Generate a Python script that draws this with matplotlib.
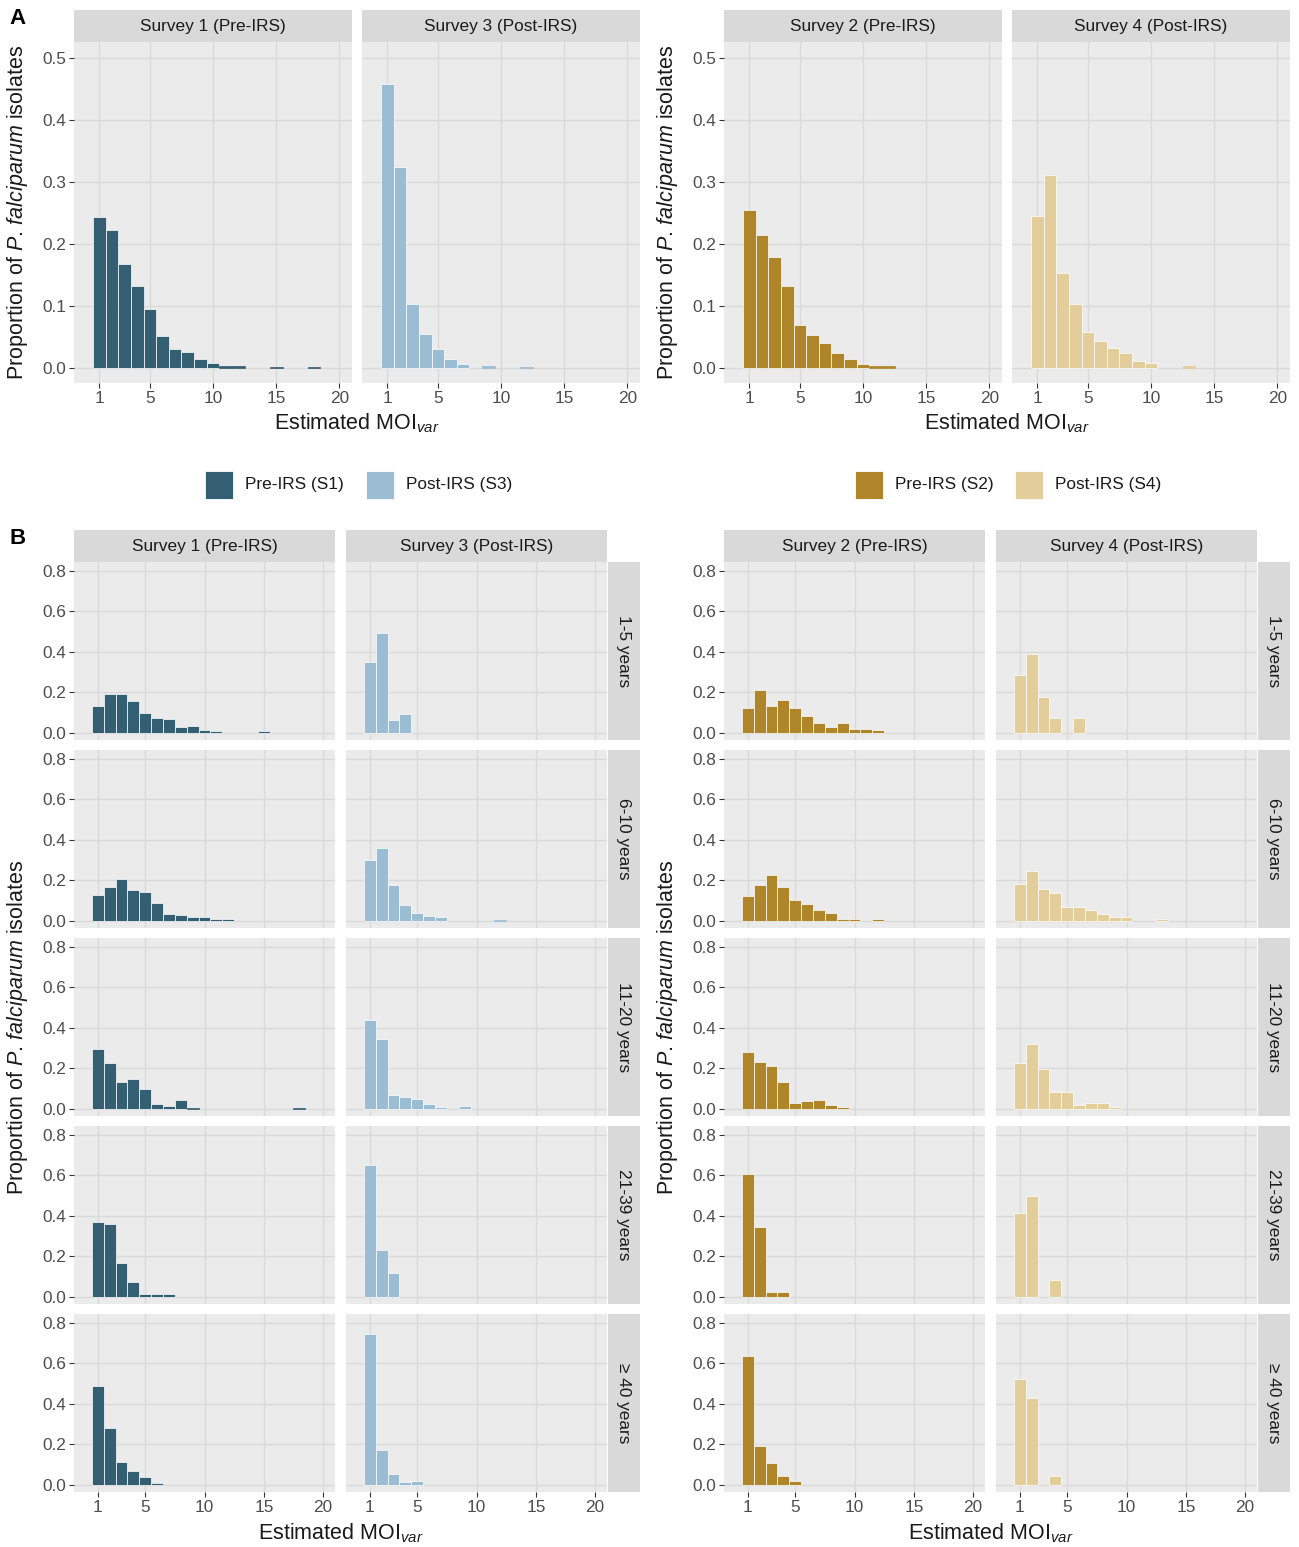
#!/usr/bin/env python3
"""
MOIvar distributions by survey (panel A) and by survey x age group (panel B).
"""

import matplotlib
matplotlib.use("Agg")
import matplotlib.pyplot as plt
from matplotlib.patches import Rectangle
import numpy as np

plt.rcParams['font.family'] = ['Liberation Sans', 'DejaVu Sans']
plt.rcParams['mathtext.fontset'] = 'custom'
plt.rcParams['mathtext.rm'] = 'Liberation Sans'
plt.rcParams['mathtext.it'] = 'Liberation Sans:italic'

# ---- data: proportion of isolates at MOIvar = 1, 2, 3, ... ----
# Panel A (all ages)
a_s1 = [0.244, 0.222, 0.168, 0.132, 0.095, 0.051, 0.031, 0.026, 0.014, 0.009,
        0.004, 0.003, 0, 0, 0.001, 0, 0, 0.001]
a_s3 = [0.459, 0.324, 0.103, 0.055, 0.031, 0.014, 0.007, 0, 0.004, 0, 0, 0.002]
a_s2 = [0.255, 0.214, 0.180, 0.132, 0.070, 0.054, 0.041, 0.025, 0.014, 0.0065,
        0.004, 0.004]
a_s4 = [0.246, 0.312, 0.154, 0.103, 0.059, 0.044, 0.033, 0.025, 0.011, 0.0075,
        0, 0, 0.004]

# Panel B (one list per age group)
age_groups = ['1-5 years', '6-10 years', '11-20 years', '21-39 years', '\u2265 40 years']
b_s1 = [
    [0.133, 0.191, 0.191, 0.158, 0.100, 0.076, 0.069, 0.030, 0.036, 0.013, 0.008,
     0, 0, 0, 0.007],
    [0.128, 0.165, 0.206, 0.151, 0.143, 0.086, 0.036, 0.030, 0.017, 0.020, 0.010, 0.010],
    [0.298, 0.227, 0.133, 0.148, 0.099, 0.023, 0.013, 0.044, 0.003,
     0, 0, 0, 0, 0, 0, 0, 0, 0.003],
    [0.370, 0.358, 0.168, 0.074, 0.013, 0.013, 0.013],
    [0.489, 0.283, 0.114, 0.068, 0.038, 0.010],
]
b_s3 = [
    [0.348, 0.491, 0.062, 0.095],
    [0.300, 0.360, 0.175, 0.077, 0.041, 0.023, 0.017, 0, 0, 0, 0, 0.005],
    [0.438, 0.344, 0.071, 0.058, 0.048, 0.023, 0.008, 0, 0.013],
    [0.652, 0.232, 0.118],
    [0.746, 0.170, 0.054, 0.012, 0.021],
]
b_s2 = [
    [0.122, 0.212, 0.131, 0.161, 0.122, 0.082, 0.051, 0.031, 0.051, 0.021, 0.021, 0.012],
    [0.124, 0.178, 0.229, 0.166, 0.105, 0.084, 0.053, 0.041, 0.007, 0.007, 0, 0.007],
    [0.283, 0.232, 0.212, 0.133, 0.031, 0.038, 0.046, 0.018, 0.008],
    [0.605, 0.343, 0.026, 0.026],
    [0.637, 0.193, 0.107, 0.044, 0.021],
]
b_s4 = [
    [0.284, 0.391, 0.179, 0.072, 0, 0.072],
    [0.183, 0.245, 0.156, 0.140, 0.069, 0.069, 0.053, 0.035, 0.018, 0.018, 0, 0, 0.008],
    [0.226, 0.319, 0.196, 0.084, 0.084, 0.020, 0.031, 0.031, 0.010],
    [0.416, 0.499, 0, 0.084],
    [0.524, 0.428, 0, 0.046],
]

x_ticks = [1, 5, 10, 15, 20]
a_yticks = [0.0, 0.1, 0.2, 0.3, 0.4, 0.5]
b_yticks = [0.0, 0.2, 0.4, 0.6, 0.8]

colors = {'S1': '#345E71', 'S3': '#9BBDD4', 'S2': '#AE8629', 'S4': '#E3CD9B'}

W, H = 1299, 1547
PANEL_BG = '#EBEBEB'
GRID = '#D9D9D9'
STRIP_BG = '#D9D9D9'
TXT = '#1A1A1A'
TICK_TXT = '#4D4D4D'
FS_SMALL = 12.4
FS_TITLE = 15.5

fig = plt.figure(figsize=(W / 100, H / 100), dpi=100)
fig.patch.set_facecolor('white')


def add_ax(x0, y0, x1, y1):
    """Axes from pixel box (top-left origin)."""
    return fig.add_axes([x0 / W, 1 - y1 / H, (x1 - x0) / W, (y1 - y0) / H])


def fx(x):
    return x / W


def fy(y):
    return 1 - y / H


def draw_bars(ax, values, color):
    vals = np.array(values, dtype=float)
    moi = np.arange(1, len(vals) + 1)
    keep = vals > 0
    # tiny bars get no white outline so they stay visible
    edges = ['white' if v > 0.006 else color for v in vals[keep]]
    ax.bar(moi[keep], vals[keep], width=1.0, color=color,
           edgecolor=edges, linewidth=0.5, zorder=3)


def style_panel(ax, ylim, yticks, show_y, show_x):
    ax.set_facecolor(PANEL_BG)
    for s in ax.spines.values():
        s.set_visible(False)
    ax.set_xlim(-1.0, 21.0)
    ax.set_ylim(*ylim)
    ax.set_xticks(x_ticks)
    ax.set_yticks(yticks)
    ax.set_yticklabels([f'{v:.1f}' for v in yticks])
    ax.grid(True, color=GRID, linewidth=1.0, zorder=0)
    ax.set_axisbelow(True)
    ax.tick_params(length=3.5, width=0.8, color='#333333', labelcolor=TICK_TXT,
                   labelsize=FS_SMALL, pad=2)
    if not show_y:
        ax.tick_params(axis='y', left=False, labelleft=False)
    if not show_x:
        ax.tick_params(axis='x', bottom=False, labelbottom=False)


def strip(x0, y0, x1, y1, label, rotation=0):
    ax = add_ax(x0, y0, x1, y1)
    ax.set_facecolor(STRIP_BG)
    for s in ax.spines.values():
        s.set_visible(False)
    ax.set_xticks([])
    ax.set_yticks([])
    ax.text(0.5, 0.5, label, ha='center', va='center', rotation=rotation,
            fontsize=FS_SMALL, color=TXT, transform=ax.transAxes)


y_label = 'Proportion of $\\mathit{P.}\\,\\mathit{falciparum}$ isolates'
x_label = 'Estimated MOI$_{\\mathit{var}}$'

# ---------------- Panel A ----------------
fig.text(fx(18), fy(18), 'A', fontsize=16, fontweight='bold', ha='center', va='center')

a_groups = [
    (0, [('Survey 1 (Pre-IRS)', a_s1, 'S1'), ('Survey 3 (Post-IRS)', a_s3, 'S3')]),
    (650, [('Survey 2 (Pre-IRS)', a_s2, 'S2'), ('Survey 4 (Post-IRS)', a_s4, 'S4')]),
]
a_cols = [(74, 352), (362, 640)]
for off, facets in a_groups:
    for c, (title, vals, key) in enumerate(facets):
        x0, x1 = a_cols[c][0] + off, a_cols[c][1] + off
        strip(x0, 10, x1, 42, title)
        ax = add_ax(x0, 42, x1, 383)
        draw_bars(ax, vals, colors[key])
        style_panel(ax, (-0.024, 0.526), a_yticks, show_y=(c == 0), show_x=True)
    fig.text(fx(18 + off), fy(212), y_label, rotation=90, ha='center', va='center',
             fontsize=FS_TITLE, color=TXT)
    fig.text(fx(357 + off), fy(423), x_label, ha='center', va='center',
             fontsize=FS_TITLE, color=TXT)

# legends
legend_items = [(205, 'Pre-IRS (S1)', 'S1'), (366, 'Post-IRS (S3)', 'S3'),
                (855, 'Pre-IRS (S2)', 'S2'), (1015, 'Post-IRS (S4)', 'S4')]
for x, label, key in legend_items:
    fig.patches.append(Rectangle((fx(x), fy(499)), 28 / W, 28 / H,
                                 facecolor=colors[key], edgecolor='white',
                                 linewidth=0.6, transform=fig.transFigure))
    fig.text(fx(x + 40), fy(485), label, ha='left', va='center',
             fontsize=FS_SMALL, color=TXT)

# ---------------- Panel B ----------------
fig.text(fx(18), fy(538), 'B', fontsize=16, fontweight='bold', ha='center', va='center')

b_groups = [
    (0, [('Survey 1 (Pre-IRS)', b_s1, 'S1'), ('Survey 3 (Post-IRS)', b_s3, 'S3')]),
    (650, [('Survey 2 (Pre-IRS)', b_s2, 'S2'), ('Survey 4 (Post-IRS)', b_s4, 'S4')]),
]
b_cols = [(74, 335), (346, 607)]
row_top, row_h, row_step = 562, 178, 188
for off, facets in b_groups:
    for c, (title, series, key) in enumerate(facets):
        x0, x1 = b_cols[c][0] + off, b_cols[c][1] + off
        strip(x0, 530, x1, 562, title)
        for r, vals in enumerate(series):
            y0 = row_top + r * row_step
            ax = add_ax(x0, y0, x1, y0 + row_h)
            draw_bars(ax, vals, colors[key])
            style_panel(ax, (-0.035, 0.844), b_yticks, show_y=(c == 0),
                        show_x=(r == len(series) - 1))
    for r, grp in enumerate(age_groups):
        y0 = row_top + r * row_step
        strip(608 + off, y0, 640 + off, y0 + row_h, grp, rotation=-90)
    fig.text(fx(18 + off), fy(1027), y_label, rotation=90, ha='center', va='center',
             fontsize=FS_TITLE, color=TXT)
    fig.text(fx(341 + off), fy(1533), x_label, ha='center', va='center',
             fontsize=FS_TITLE, color=TXT)

fig.savefig('out.png', dpi=100, facecolor='white')
plt.close(fig)
